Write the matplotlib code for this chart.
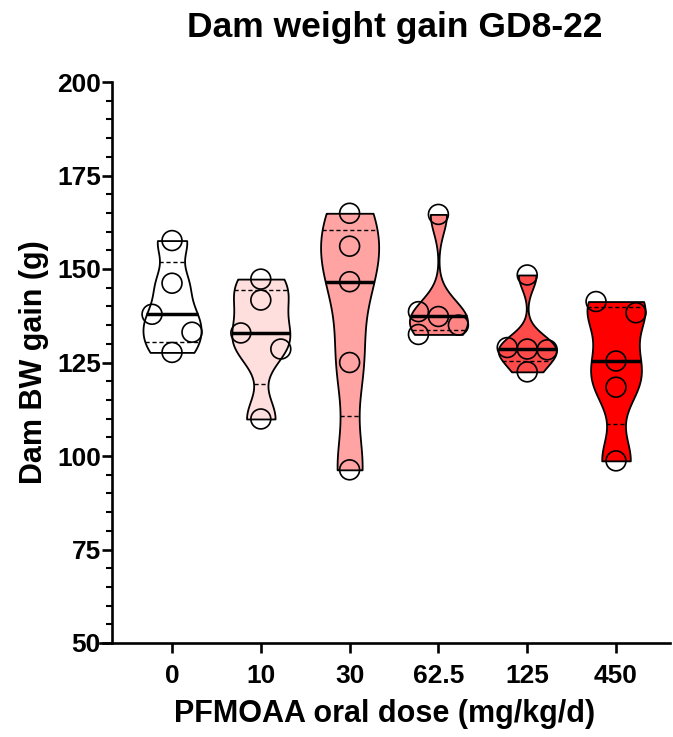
import numpy as np
import matplotlib
matplotlib.use('Agg')
import matplotlib.pyplot as plt
from matplotlib.ticker import MultipleLocator

plt.rcParams['font.family'] = ['Liberation Sans', 'DejaVu Sans']
plt.rcParams['font.weight'] = 'bold'

# data (g)
dose_labels = ['0', '10', '30', '62.5', '125', '450']
gain_0 = [157.6, 146.2, 137.9, 133.1, 127.7]
gain_10 = [147.3, 141.7, 132.9, 128.6, 109.9]
gain_30 = [164.9, 156.1, 146.6, 125.0, 96.3]
gain_62_5 = [164.6, 138.6, 137.3, 135.0, 132.5]
gain_125 = [148.4, 129.0, 128.6, 128.4, 122.5]
gain_450 = [141.3, 138.3, 125.4, 118.4, 98.7]
groups = [gain_0, gain_10, gain_30, gain_62_5, gain_125, gain_450]

# horizontal scatter of the points inside each violin
jitter = [[0, 0, -1, 1, 0],
          [0, 0, -1, 1, 0],
          [0, 0, 0, 0, 0],
          [0, -1, 0, 1, -1],
          [0, -1, 0, 1, 0],
          [-1, 1, 0, 0, 0]]
colors = ['#FFFFFF', '#FFDEDE', '#FFA3A3', '#FF8585', '#FF4A4A', '#FF0000']

half_w = 0.327
jit = 0.225


def kde(vals, grid):
    vals = np.asarray(vals)
    bw = 0.38 * vals.std(ddof=1)
    return np.exp(-0.5 * ((grid[:, None] - vals[None, :]) / bw) ** 2).sum(axis=1)


fig = plt.figure(figsize=(6.73, 7.37), dpi=100)
ax = fig.add_axes([100 / 673, 94 / 737, 570 / 673, 561 / 737])

for i, vals in enumerate(groups):
    v = np.array(vals)
    grid = np.linspace(v.min(), v.max(), 300)
    d = kde(v, grid)
    w = d / d.max() * half_w
    ax.fill_betweenx(grid, i - w, i + w, facecolor=colors[i], edgecolor='black',
                     linewidth=1.3, zorder=2)
    q1, med, q3 = np.percentile(v, [25, 50, 75], method='weibull')
    for q, ls, lw in [(q1, (0, (3, 2)), 1.0), (q3, (0, (3, 2)), 1.0), (med, '-', 2.5)]:
        hw = np.interp(q, grid, w)
        ax.plot([i - hw, i + hw], [q, q], color='black', linestyle=ls, linewidth=lw,
                solid_capstyle='butt', zorder=3)
    xs = i + np.array(jitter[i]) * jit
    ax.scatter(xs, v, s=205, facecolors='none', edgecolors='black', linewidths=1.2,
               zorder=4)

ax.set_xlim(-0.811, 5.608)
ax.set_ylim(50, 200)
ax.spines['top'].set_visible(False)
ax.spines['right'].set_visible(False)
ax.spines['left'].set_position(('data', -0.676))
ax.spines['left'].set_linewidth(1.9)
ax.spines['bottom'].set_linewidth(1.9)

ax.set_xticks(range(len(dose_labels)))
ax.set_xticklabels(dose_labels)
ax.yaxis.set_major_locator(MultipleLocator(25))
ax.yaxis.set_minor_locator(MultipleLocator(5))
ax.tick_params(axis='both', which='major', labelsize=19, width=1.9, length=7, pad=1)
ax.tick_params(axis='y', which='minor', width=1.5, length=4)
ax.tick_params(axis='x', which='major', pad=8)

ax.set_ylabel('Dam BW gain (g)', fontsize=22, fontweight='bold', labelpad=6)
ax.set_xlabel('PFMOAA oral dose (mg/kg/d)', fontsize=22, fontweight='bold', labelpad=8)
fig.text(395 / 673, 1 - 27 / 737, 'Dam weight gain GD8-22', ha='center', va='center',
         fontsize=25.5, fontweight='bold')

fig.savefig('out.png', dpi=100)
